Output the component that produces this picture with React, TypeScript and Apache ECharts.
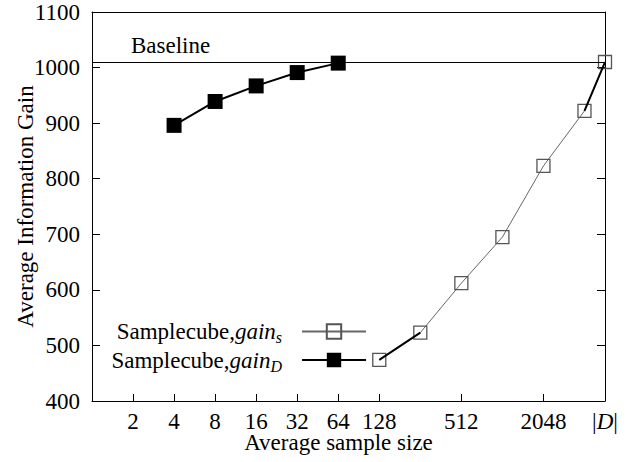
import React, { useEffect, useRef } from "react";
import * as echarts from "echarts";

// x positions are log2(sample size); |D| sits at the right end of the axis
const xTickVals = [1, 2, 3, 4, 5, 6, 7, 9, 11, 12.5];
const xTickLabels = ["2", "4", "8", "16", "32", "64", "128", "512", "2048", "|{it|D}|"];
const gainSX = [7, 8, 9, 10, 11, 12, 12.5];
const gainSY = [474, 523, 612, 695, 823, 922, 1010];
const gainDX = [2, 3, 4, 5, 6];
const gainDY = [896, 939, 967, 991, 1008];
const baselineValue = 1010;
const yTicks = [400, 1100, 100];

const FONT = "'Liberation Serif', 'DejaVu Serif', serif";

export default function App() {
  const ref = useRef<HTMLDivElement>(null);
  useEffect(() => {
    if (!ref.current) return;
    const chart = echarts.init(ref.current, null, { renderer: "svg" });
    const sData = gainSX.map((x, i) => [x, gainSY[i]]);
    const dData = gainDX.map((x, i) => [x, gainDY[i]]);
    const thickData = [sData[0], sData[1], [gainSX[1], "-"], sData[5], sData[6]];
    const rich = {
      it: { fontFamily: FONT, fontSize: 23, fontStyle: "italic", color: "#000" },
      sub: { fontFamily: FONT, fontSize: 16, fontStyle: "italic", color: "#000", padding: [12, 0, 0, 0] },
    };
    const option = {
      animation: false,
      backgroundColor: "#fff",
      textStyle: { fontFamily: FONT },
      grid: { left: 92, right: 29, top: 12, bottom: 61, containLabel: false, outerBoundsMode: "none" },
      legend: {
        data: ["gainS", "gainD"],
        orient: "vertical",
        right: 267,
        top: 320,
        padding: 0,
        align: "right",
        itemWidth: 64,
        itemHeight: 18,
        itemGap: 3,
        selectedMode: false,
        formatter: (name: string) =>
          name === "gainS" ? "Samplecube,{it|gain}{sub|s}" : "Samplecube,{it|gain}{sub|D}",
        textStyle: {
          fontFamily: FONT,
          fontSize: 23,
          color: "#000",
          padding: [0, 15, 0, 0],
          rich,
        },
      },
      xAxis: [
        {
          type: "value",
          min: 0,
          max: 12.5,
          name: "Average sample size",
          nameLocation: "middle",
          nameGap: 30,
          nameMoveOverlap: false,
          nameTextStyle: { fontFamily: FONT, fontSize: 23, lineHeight: 22, color: "#000", padding: [0, 20, 0, 0] },
          axisLine: { show: true, onZero: false, lineStyle: { color: "#000", width: 1 } },
          axisTick: { show: true, inside: true, length: 7, customValues: xTickVals, lineStyle: { color: "#000" } },
          axisLabel: {
            customValues: xTickVals,
            margin: 11,
            fontFamily: FONT,
            fontSize: 23,
            lineHeight: 18,
            color: "#000",
            formatter: (v: number) => {
              const i = xTickVals.indexOf(v);
              return i >= 0 ? xTickLabels[i] : "";
            },
            rich: { it: { fontFamily: FONT, fontSize: 23, lineHeight: 18, fontStyle: "italic", color: "#000" } },
          },
          splitLine: { show: false },
        },
        {
          type: "value",
          position: "top",
          min: 0,
          max: 12.5,
          axisLine: { show: true, onZero: false, lineStyle: { color: "#000", width: 1 } },
          axisTick: { show: false },
          axisLabel: { show: false },
          splitLine: { show: false },
        },
      ],
      yAxis: [
        {
          type: "value",
          min: yTicks[0],
          max: yTicks[1],
          interval: yTicks[2],
          name: "Average Information Gain",
          nameLocation: "middle",
          nameGap: 55,
          nameMoveOverlap: false,
          nameTextStyle: { fontFamily: FONT, fontSize: 23, color: "#000" },
          axisLine: { show: true, onZero: false, lineStyle: { color: "#000", width: 1 } },
          axisTick: { show: true, inside: true, length: 8, lineStyle: { color: "#000" } },
          axisLabel: { margin: 12, fontFamily: FONT, fontSize: 23, color: "#000", formatter: (v: number) => String(v) },
          splitLine: { show: false },
        },
        {
          type: "value",
          position: "right",
          min: yTicks[0],
          max: yTicks[1],
          interval: yTicks[2],
          axisLine: { show: true, onZero: false, lineStyle: { color: "#000", width: 1 } },
          axisTick: { show: true, inside: true, length: 8, lineStyle: { color: "#000" } },
          axisLabel: { show: false },
          splitLine: { show: false },
        },
      ],
      series: [
        {
          name: "baseline",
          type: "line",
          data: [],
          markLine: {
            silent: true,
            symbol: "none",
            lineStyle: { color: "#000", width: 1, type: "solid" },
            label: {
              show: true,
              position: "insideStartTop",
              formatter: "Baseline",
              fontFamily: FONT,
              fontSize: 23,
              color: "#000",
              padding: [0, 0, 0, 34],
            },
            data: [{ yAxis: baselineValue }],
          },
        },
        {
          name: "gainS",
          type: "line",
          data: sData,
          symbol: "rect",
          symbolSize: 13,
          lineStyle: { color: "#666", width: 1 },
          itemStyle: { color: "rgba(255,255,255,0)", borderColor: "#555", borderWidth: 1.3 },
          z: 3,
        },
        {
          name: "gainSThick",
          type: "line",
          data: thickData,
          symbol: "none",
          connectNulls: false,
          lineStyle: { color: "#000", width: 2 },
          z: 4,
        },
        {
          name: "gainD",
          type: "line",
          data: dData,
          symbol: "rect",
          symbolSize: 15,
          lineStyle: { color: "#000", width: 2 },
          itemStyle: { color: "#000" },
          z: 5,
        },
      ],
    };
    chart.setOption(option as any);
    return () => chart.dispose();
  }, []);
  return <div ref={ref} style={{ width: 634, height: 462, position: "fixed", left: 0, top: 0 }} />;
}
